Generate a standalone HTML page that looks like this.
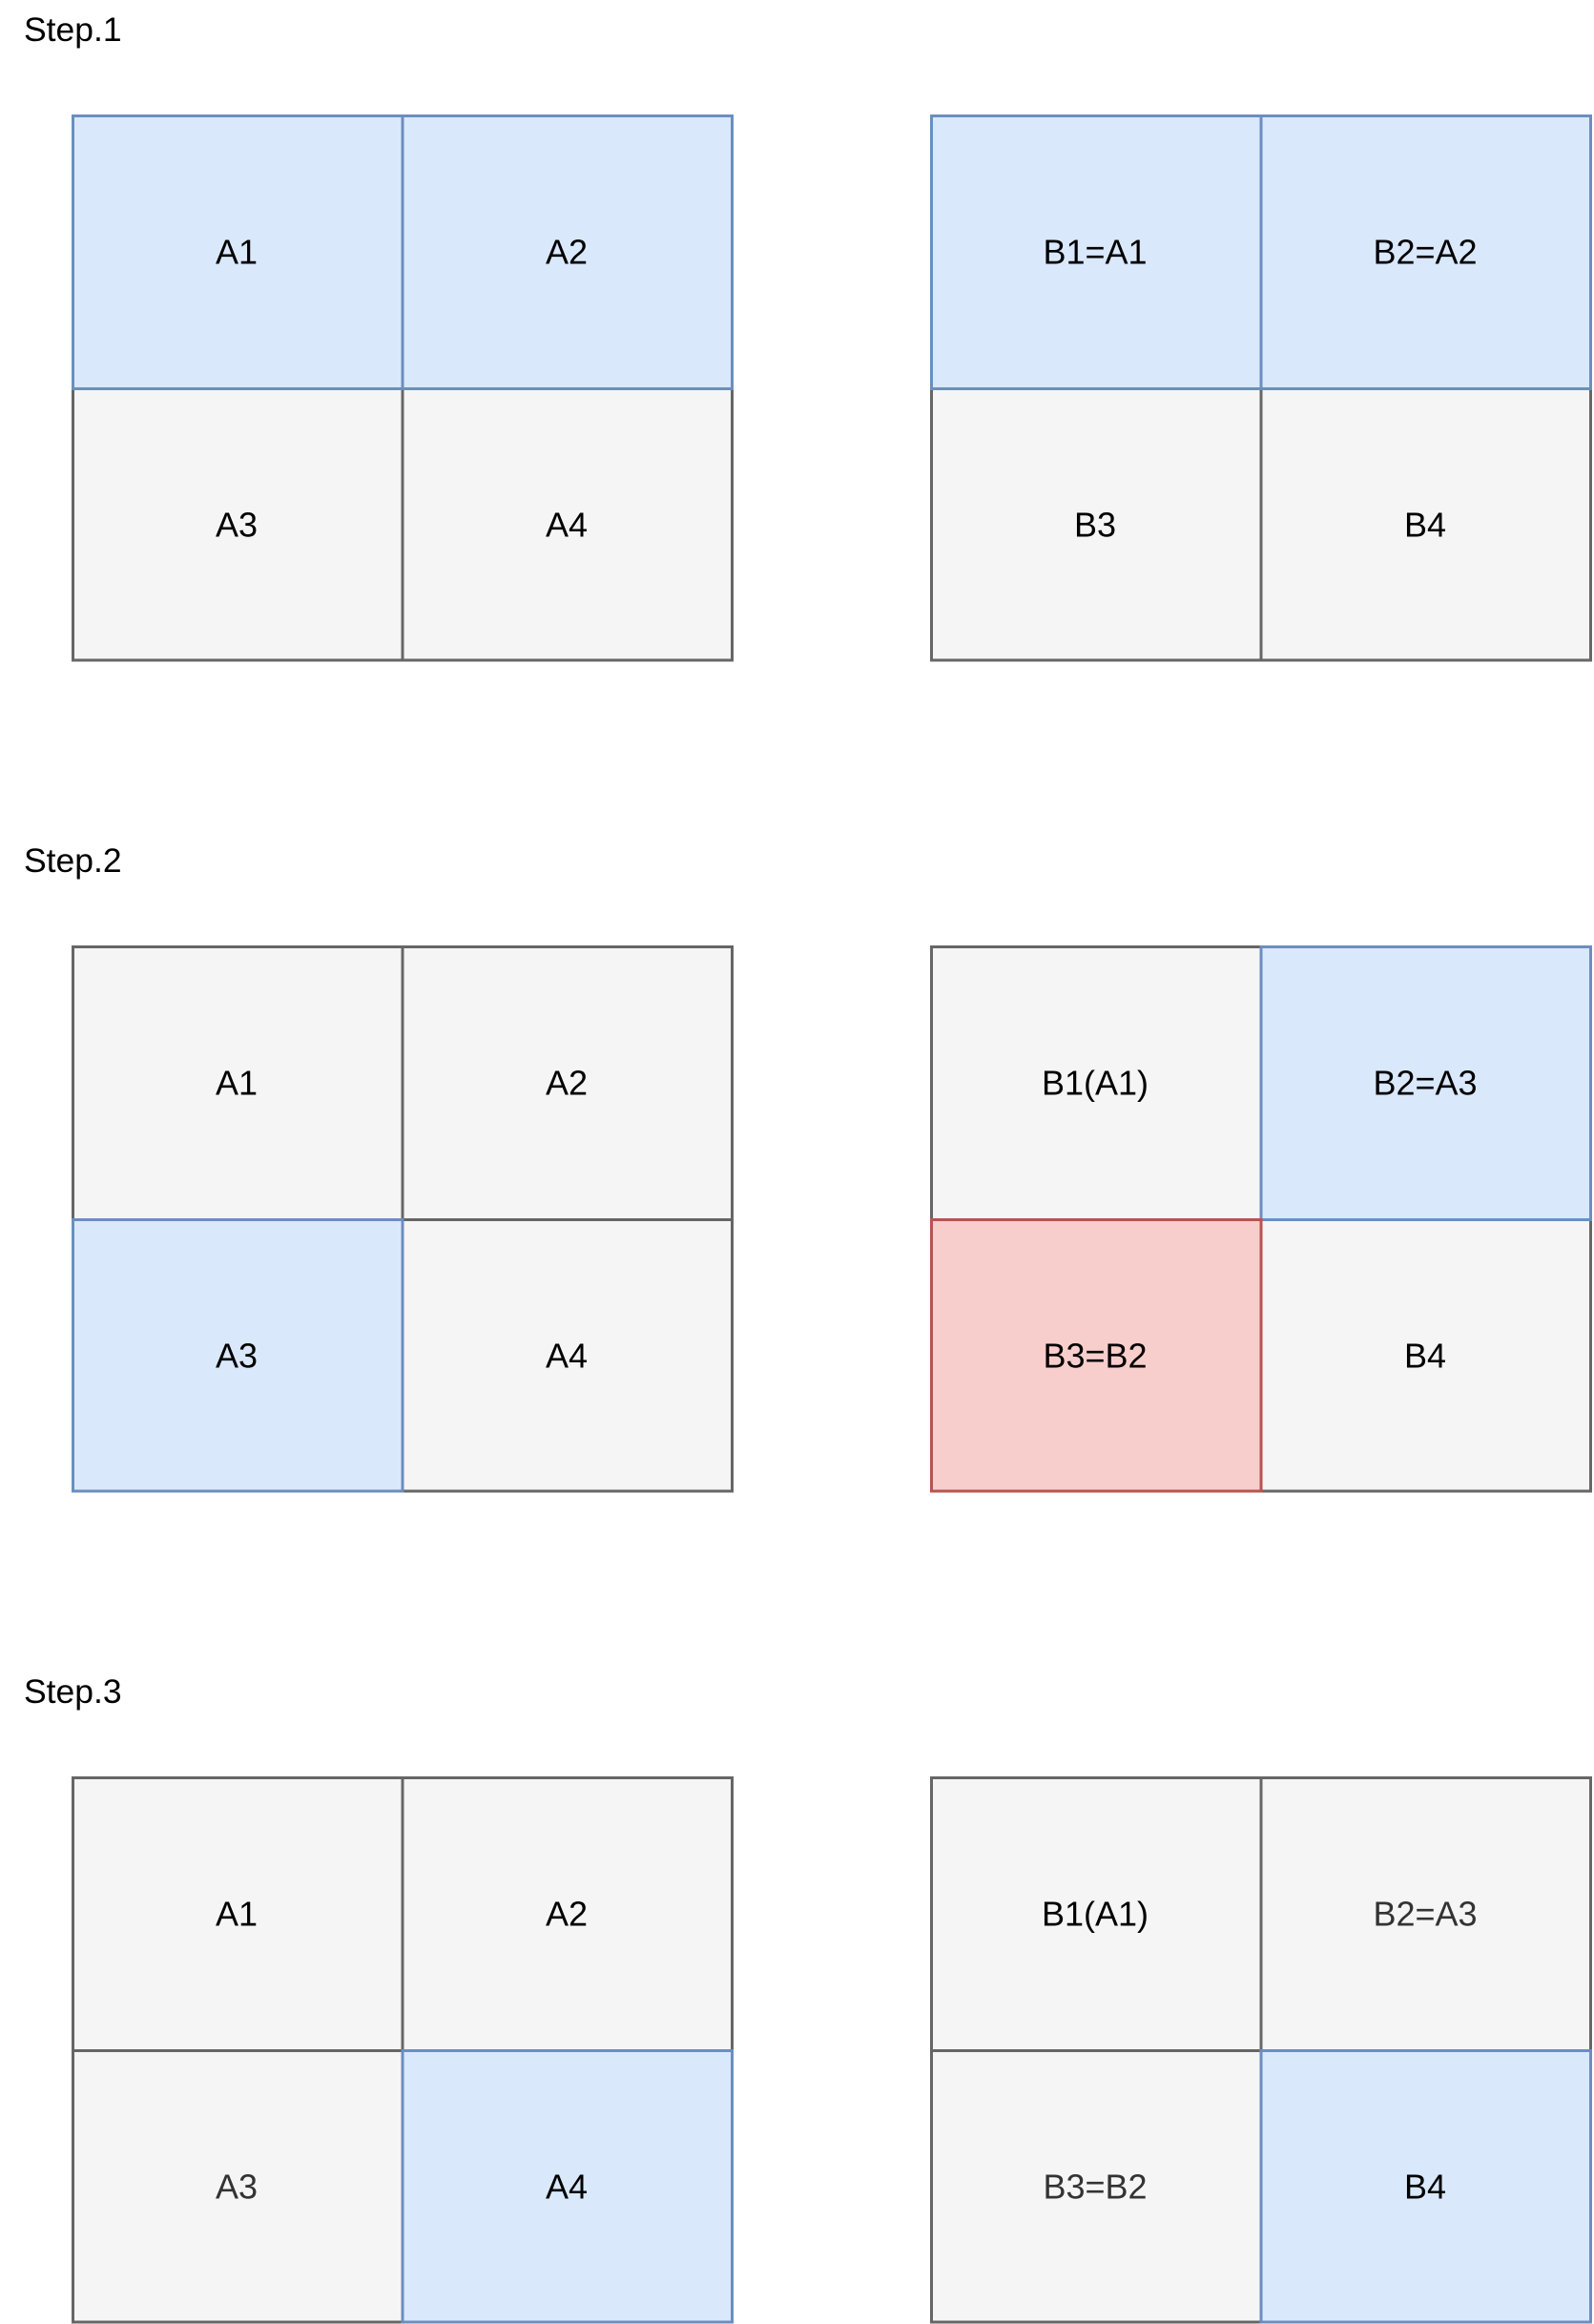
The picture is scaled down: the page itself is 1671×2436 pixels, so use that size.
<!DOCTYPE html>
<html><head><meta charset="utf-8"><style>
html,body{margin:0;padding:0;background:#fff;}
svg{display:block;}
text{font-family:"Liberation Sans",Arial,sans-serif;}
</style></head><body>
<svg width="1671" height="2436" viewBox="0 0 1671 2436" xmlns="http://www.w3.org/2000/svg">
<defs>
<style>
.g{fill:#f5f5f5;stroke:#666666;stroke-width:3}
.b{fill:#dae8fc;stroke:#6c8ebf;stroke-width:3}
.r{fill:#f8cecc;stroke:#b85450;stroke-width:3}
.t{font-size:36px;text-anchor:middle;dominant-baseline:central;fill:#000}
.t2{font-size:36px;text-anchor:middle;dominant-baseline:central;fill:#333}
.s{font-size:35.5px;fill:#000}
</style>
</defs>
<!-- Step 1 -->
<text class="s" x="25" y="43">Step.1</text>
<g transform="translate(0,0)">
<rect class="g" x="76.5" y="407.5" width="345.5" height="284.5"/>
<rect class="g" x="422" y="407.5" width="345.5" height="284.5"/>
<rect class="b" x="76.5" y="121.5" width="345.5" height="286"/>
<rect class="b" x="422" y="121.5" width="345.5" height="286"/>
<text class="t" x="248" y="264">A1</text>
<text class="t" x="594" y="264">A2</text>
<text class="t" x="248" y="550">A3</text>
<text class="t" x="594" y="550">A4</text>

<rect class="g" x="976.5" y="407.5" width="345.5" height="284.5"/>
<rect class="g" x="1322" y="407.5" width="345.5" height="284.5"/>
<rect class="b" x="976.5" y="121.5" width="345.5" height="286"/>
<rect class="b" x="1322" y="121.5" width="345.5" height="286"/>
<text class="t" x="1148" y="264">B1=A1</text>
<text class="t" x="1494" y="264">B2=A2</text>
<text class="t" x="1148" y="550">B3</text>
<text class="t" x="1494" y="550">B4</text>
</g>
<!-- Step 2 -->
<text class="s" x="25" y="914">Step.2</text>
<g transform="translate(0,871)">
<rect class="g" x="76.5" y="121.5" width="345.5" height="286"/>
<rect class="g" x="422" y="121.5" width="345.5" height="286"/>
<rect class="g" x="422" y="407.5" width="345.5" height="284.5"/>
<rect class="b" x="76.5" y="407.5" width="345.5" height="284.5"/>
<text class="t" x="248" y="264">A1</text>
<text class="t" x="594" y="264">A2</text>
<text class="t" x="248" y="550">A3</text>
<text class="t" x="594" y="550">A4</text>

<rect class="g" x="976.5" y="121.5" width="345.5" height="286"/>
<rect class="g" x="1322" y="407.5" width="345.5" height="284.5"/>
<rect class="b" x="1322" y="121.5" width="345.5" height="286"/>
<rect class="r" x="976.5" y="407.5" width="345.5" height="284.5"/>
<text class="t" x="1148" y="264">B1(A1)</text>
<text class="t" x="1494" y="264">B2=A3</text>
<text class="t" x="1148" y="550">B3=B2</text>
<text class="t" x="1494" y="550">B4</text>
</g>
<!-- Step 3 -->
<text class="s" x="25" y="1785">Step.3</text>
<g transform="translate(0,1742)">
<rect class="g" x="76.5" y="121.5" width="345.5" height="286"/>
<rect class="g" x="422" y="121.5" width="345.5" height="286"/>
<rect class="g" x="76.5" y="407.5" width="345.5" height="284.5"/>
<rect class="b" x="422" y="407.5" width="345.5" height="284.5"/>
<text class="t" x="248" y="264">A1</text>
<text class="t" x="594" y="264">A2</text>
<text class="t2" x="248" y="550">A3</text>
<text class="t" x="594" y="550">A4</text>

<rect class="g" x="976.5" y="121.5" width="345.5" height="286"/>
<rect class="g" x="1322" y="121.5" width="345.5" height="286"/>
<rect class="g" x="976.5" y="407.5" width="345.5" height="284.5"/>
<rect class="b" x="1322" y="407.5" width="345.5" height="284.5"/>
<text class="t" x="1148" y="264">B1(A1)</text>
<text class="t2" x="1494" y="264">B2=A3</text>
<text class="t2" x="1148" y="550">B3=B2</text>
<text class="t" x="1494" y="550">B4</text>
</g>
</svg>
</body></html>
